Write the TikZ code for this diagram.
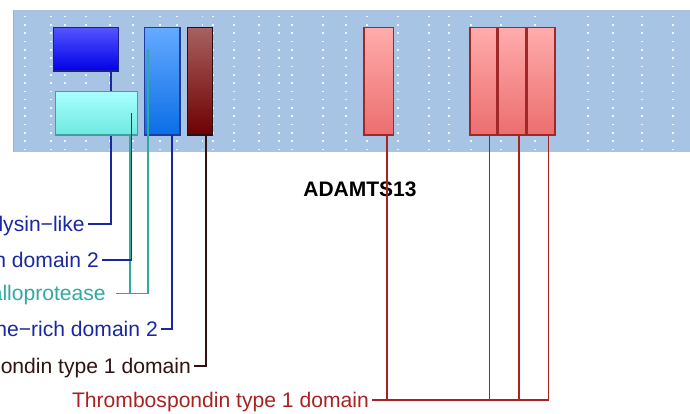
\documentclass[tikz,border=0pt]{standalone}
\usepackage{fontspec}
\setmainfont{Liberation Sans}
\definecolor{bgblue}{RGB}{168,196,228}
\definecolor{edgepink}{RGB}{228,150,150}
\definecolor{navy}{RGB}{26,40,160}
\definecolor{tealc}{RGB}{48,170,160}
\definecolor{darkc}{RGB}{48,18,18}
\definecolor{redc}{RGB}{168,34,34}
\definecolor{b1top}{RGB}{84,84,255}
\definecolor{b1bot}{RGB}{0,0,230}
\definecolor{b1edge}{RGB}{30,30,140}
\definecolor{b2top}{RGB}{168,255,255}
\definecolor{b2bot}{RGB}{110,232,224}
\definecolor{b2edge}{RGB}{64,160,160}
\definecolor{b3top}{RGB}{100,170,255}
\definecolor{b3bot}{RGB}{10,110,230}
\definecolor{b3edge}{RGB}{30,60,160}
\definecolor{b4top}{RGB}{168,96,96}
\definecolor{b4bot}{RGB}{110,0,0}
\definecolor{b4edge}{RGB}{40,16,16}
\definecolor{ptop}{RGB}{255,172,172}
\definecolor{pbot}{RGB}{236,110,110}
\definecolor{pedge}{RGB}{160,40,40}
\tikzset{
  dom/.style={draw, line width=1.3pt, inner sep=0pt, outer sep=0pt},
  lab/.style={anchor=east, inner xsep=3pt, inner ysep=0pt, text height=15pt, text depth=0pt,
              font=\fontsize{21.1pt}{25pt}\selectfont},
  conn/.style={line width=1.4pt},
}
\begin{document}
\begin{tikzpicture}[x=1pt,y=1pt]
\useasboundingbox (0,0) rectangle (690,414);
\clip (0,0) rectangle (690,414);
% background band
\fill[bgblue] (13.3,261.5) rectangle (690,404);
\draw[edgepink, line width=0.8pt] (13.3,261.5) -- (13.3,404);
\foreach \x in {25,51,65,86,110,133,160,177,202.5,213,234,259,279,292,323,346,367,398,429,449,471,501,535,588,613,642,673}
  \foreach \k in {0,...,16}
    \fill[white, opacity=0.85] ({\x-0.8},{397.3-8.29*\k-0.8}) rectangle ++(1.6,1.6);
% coordinates for connector bends
\coordinate (c1) at (111,190);
\coordinate (c2) at (131.5,154);
\coordinate (c3a) at (130,120.5);
\coordinate (c3b) at (148,120.5);
\coordinate (c4) at (172,85);
\coordinate (c5) at (206,48);
\coordinate (t1) at (387,14);
\coordinate (t2) at (489.5,14);
\coordinate (t3) at (519,14);
\coordinate (t4) at (548.5,14);
% labels
\node[lab, text=navy] (lab1) at (88,190) {Metallo−peptidase family M12B Reprolysin−like};
\node[lab, text=navy] (lab2) at (102,154) {ADAMTS disintegrin domain 2};
\node[lab, text=tealc, inner xsep=10pt] (lab3) at (116,120.5) {Reprolysin family zinc metalloprotease};
\node[lab, text=navy] (lab4) at (161,85) {ADAMTS cysteine−rich domain 2};
\node[lab, text=darkc] (lab5) at (194,48) {Thrombospondin type 1 domain};
\node[lab, text=redc] (lab6) at (372,14) {Thrombospondin type 1 domain};
% box 1 and its connector
\node[dom, draw=b1edge, top color=b1top, bottom color=b1bot, minimum width=65pt, minimum height=43.3pt] (box1) at (86.2,364.65) {};
\draw[conn, navy] (box1.south -| c1) |- (lab1.east);
% box 2
\node[dom, draw=b2edge, top color=b2top, bottom color=b2bot, minimum width=82pt, minimum height=43.3pt] (box2) at (96.7,300.65) {};
\draw[conn, tealc] (box2.south -| c3a) -- (c3a);
\draw[conn, navy] (box2.center -| c2) |- (lab2.east);
% box 3
\node[dom, draw=b3edge, top color=b3top, bottom color=b3bot, minimum width=35.7pt, minimum height=107.3pt] (box3) at (162.15,332.65) {};
\draw[conn, tealc] (box1.center -| c3b) |- (lab3.east);
\draw[conn, navy] (box3.south -| c4) |- (lab4.east);
% box 4
\node[dom, draw=b4edge, top color=b4top, bottom color=b4bot, minimum width=25.4pt, minimum height=107.3pt] (box4) at (200,332.65) {};
\draw[conn, darkc] (box4.south -| c5) |- (lab5.east);
% pink boxes
\node[dom, draw=pedge, top color=ptop, bottom color=pbot, minimum width=29.7pt, minimum height=107.3pt] (box5) at (378.85,332.65) {};
\node[dom, draw=pedge, top color=ptop, bottom color=pbot, minimum width=26.7pt, minimum height=107.3pt] (box6) at (483.35,332.65) {};
\node[dom, draw=pedge, top color=ptop, bottom color=pbot, minimum width=28pt, minimum height=107.3pt] (box7) at (512,332.65) {};
\node[dom, draw=pedge, top color=ptop, bottom color=pbot, minimum width=28pt, minimum height=107.3pt] (box8) at (541,332.65) {};
% title
\node[anchor=base, inner sep=0pt, font=\fontsize{21pt}{25pt}\selectfont\bfseries] (title) at (360,217.3) {ADAMTS13};
% red connectors
\draw[conn, redc] (box5.south -| t1) -- (t1);
\draw[conn, redc] (box6.south -| t2) -- (t2);
\draw[conn, redc] (box7.south -| t3) -- (t3);
\draw[conn, redc] (box8.south -| t4) -- (t4);
\draw[conn, redc] (lab6.east) -- (t4);
\end{tikzpicture}
\end{document}
